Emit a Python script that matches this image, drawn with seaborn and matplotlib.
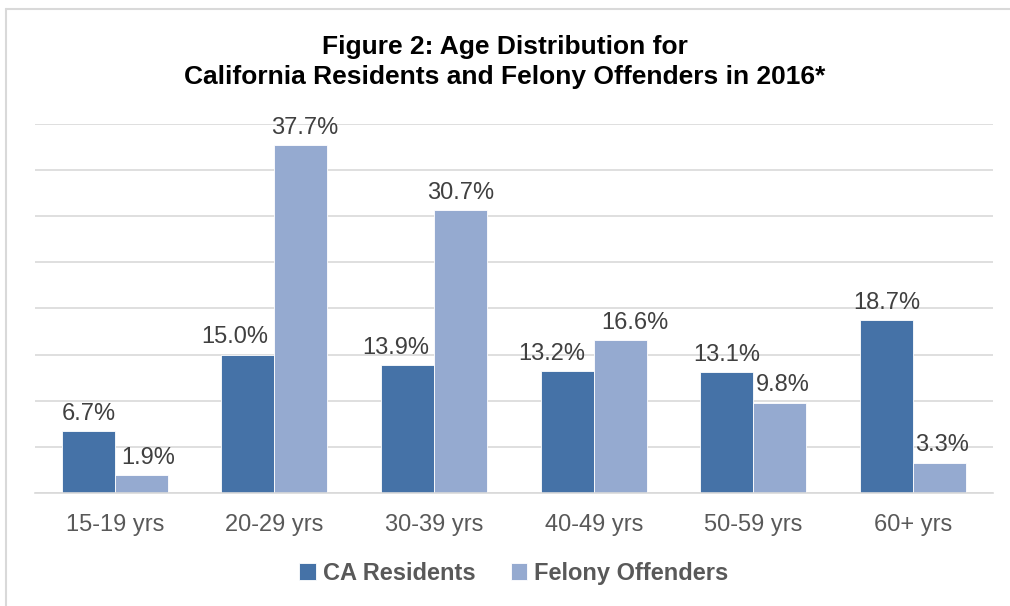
import matplotlib
matplotlib.use("Agg")
import matplotlib.pyplot as plt
import seaborn as sns
import pandas as pd
from matplotlib.lines import Line2D

ages = ['15-19 yrs', '20-29 yrs', '30-39 yrs', '40-49 yrs', '50-59 yrs', '60+ yrs']
residents = [6.7, 15.0, 13.9, 13.2, 13.1, 18.7]
offenders = [1.9, 37.7, 30.7, 16.6, 9.8, 3.3]
groups = ['CA Residents', 'Felony Offenders']
colors = ['#4572A7', '#95AAD0']

df = pd.DataFrame({
    'age': ages * 2,
    'pct': residents + offenders,
    'group': [groups[0]] * len(ages) + [groups[1]] * len(ages),
})

sns.set_style('white')
plt.rcParams['font.family'] = ['Liberation Sans', 'DejaVu Sans']

fig = plt.figure(figsize=(10.1, 6.06), dpi=100)
ax = fig.add_axes([0.0347, 0.1865, 0.9483, 0.6089])

sns.barplot(data=df, x='age', y='pct', hue='group', palette=colors,
            width=0.664, gap=0, saturation=1, ax=ax, legend=True,
            edgecolor='white', linewidth=0.6)

# excel nudges some labels sideways so they don't collide (pixels)
nudges = [[0, -13, -12, -16, 0, 0], [7, 4, 0, 15, 3, 3]]
for cont, nudge in zip(ax.containers, nudges):
    anns = ax.bar_label(cont, fmt='%.1f%%', padding=4.5, fontsize=17, color='#404040')
    for a, dx in zip(anns, nudge):
        a.xyann = (dx * 0.72, 4.5)

ax.set_ylim(0, 40)
ax.set_yticks(range(0, 41, 5))
ax.set_yticklabels([])
ax.yaxis.grid(True, color='#D9D9D9', linewidth=1.2)
ax.set_axisbelow(True)
for s in ['top', 'right', 'left']:
    ax.spines[s].set_visible(False)
ax.spines['bottom'].set_color('#D9D9D9')
ax.spines['bottom'].set_linewidth(1.2)
ax.tick_params(axis='x', length=0, pad=15, labelsize=17, labelcolor='#595959')
ax.tick_params(axis='y', length=0)
ax.set_xlabel('')
ax.set_ylabel('')

handles, labels = ax.get_legend_handles_labels()
ax.legend(handles, labels, loc='center', bbox_to_anchor=(0.5, -0.217),
          ncol=2, frameon=False, handlelength=0.7, handleheight=0.7,
          handletextpad=0.3, columnspacing=1.5,
          prop={'weight': 'bold', 'size': 17}, labelcolor='#595959')

fig.text(0.5, 0.922, 'Figure 2: Age Distribution for', ha='center', va='center',
         fontsize=19, fontweight='bold', color='black')
fig.text(0.5, 0.873, 'California Residents and Felony Offenders in 2016*', ha='center',
         va='center', fontsize=19, fontweight='bold', color='black')

fig.add_artist(Line2D([0.006, 1.0], [0.985, 0.985], color='#D9D9D9', lw=1.5,
                      transform=fig.transFigure))
fig.add_artist(Line2D([0.006, 0.006], [0.0, 0.985], color='#D9D9D9', lw=1.5,
                      transform=fig.transFigure))

fig.savefig('out.png', dpi=100)
